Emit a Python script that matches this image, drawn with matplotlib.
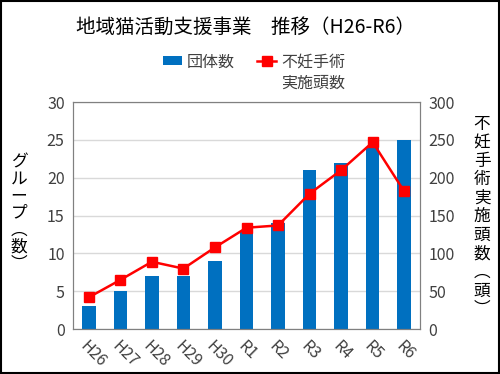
import numpy as np
import matplotlib.pyplot as plt
from matplotlib.patches import Rectangle

plt.rcParams['font.family'] = ['Noto Sans CJK JP', 'DejaVu Sans']

# data
years = ['H26', 'H27', 'H28', 'H29', 'H30', 'R1', 'R2', 'R3', 'R4', 'R5', 'R6']
groups = [3, 5, 7, 7, 9, 13, 14, 21, 22, 24, 25]
surgeries = [42, 65, 89, 80, 108, 134, 137, 179, 210, 247, 182]

blue = '#0070C0'
red = '#FF0000'
txt = '#404040'

fig = plt.figure(figsize=(5, 3.74), dpi=100)
ax = fig.add_axes([0.146, 0.12, 0.694, 0.607])
x = np.arange(len(years))

ax.bar(x, groups, width=0.43, color=blue, zorder=2, label='団体数')
ax.set_ylim(0, 30)
ax.set_yticks(range(0, 31, 5))
ax.set_xlim(-0.5, len(years) - 0.5)
ax.set_xticks(x)
ax.set_xticklabels(years, rotation=-45, ha='left', va='top', rotation_mode='anchor')
ax.grid(axis='y', color='#D9D9D9', linewidth=1, zorder=0)
ax.tick_params(length=0, labelsize=11.5, labelcolor=txt, pad=6)
for s in ax.spines.values():
    s.set_color('#808080')

ax2 = ax.twinx()
ax2.plot(x, surgeries, color=red, marker='s', markersize=7, linewidth=1.8,
         zorder=3, label='不妊手術')
ax2.set_ylim(0, 300)
ax2.set_yticks(range(0, 301, 50))
ax2.tick_params(length=0, labelsize=11.5, labelcolor=txt, pad=6)
for s in ax2.spines.values():
    s.set_color('#808080')

# vertical axis titles
fig.text(0.038, 0.43, '\n'.join('グループ︵数︶'), ha='center', va='center',
         fontsize=12, linespacing=1.0)
fig.text(0.964, 0.42, '\n'.join('不妊手術実施頭数︵頭︶'), ha='center', va='center',
         fontsize=12, linespacing=1.12)

fig.text(0.49, 0.928, '地域猫活動支援事業　推移（H26-R6）', ha='center', va='center',
         fontsize=14)

h1, l1 = ax.get_legend_handles_labels()
h2, l2 = ax2.get_legend_handles_labels()
leg = fig.legend(h1 + h2, l1 + l2, loc='center', bbox_to_anchor=(0.508, 0.834),
                 ncol=2, frameon=False, fontsize=11.5, handlelength=1.2,
                 handleheight=0.5, columnspacing=1.4, handletextpad=0.3,
                 labelcolor=txt)

# second line of the red series label sits under the first
fig.canvas.draw()
bb = leg.get_texts()[1].get_window_extent().transformed(fig.transFigure.inverted())
fig.text(bb.x0, bb.y0 - 0.01, '実施頭数', ha='left', va='top', fontsize=11.5, color=txt)

fig.add_artist(Rectangle((0.002, 0.003), 0.995, 0.993, transform=fig.transFigure,
                         fill=False, edgecolor='black', linewidth=1.5))

fig.savefig('out.png', dpi=100)
